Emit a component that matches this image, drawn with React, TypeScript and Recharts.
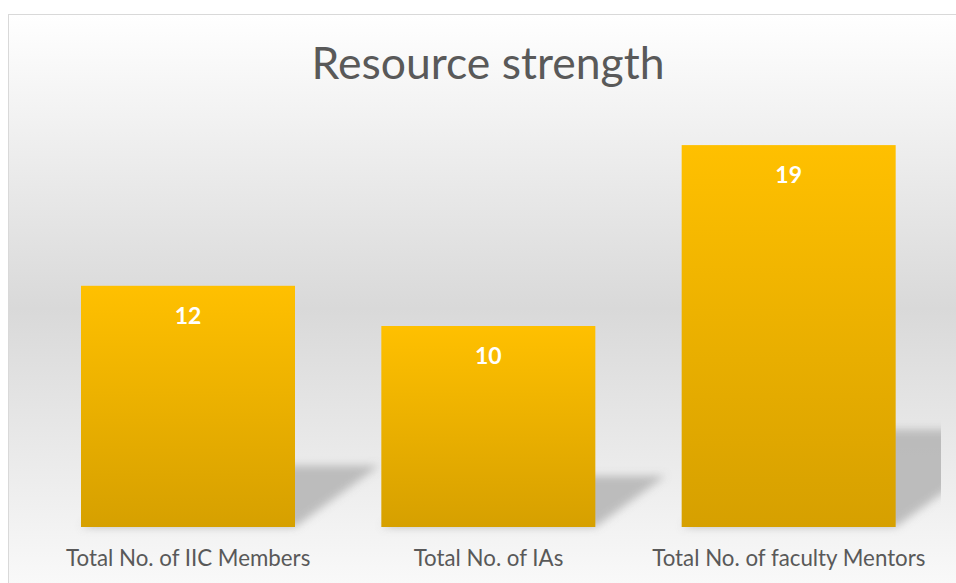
import { BarChart, Bar, XAxis, YAxis, LabelList } from 'recharts';

const categories = ['Total No. of IIC Members', 'Total No. of IAs', 'Total No. of faculty Mentors'];
const counts = [12, 10, 19];

const data = categories.map((name, i) => ({ name, value: counts[i] }));

const W = 948;
const H = 569;
const FONT = 'Lato, "Open Sans", sans-serif';

// bar with a gold gradient and a skewed floor shadow behind it
function ShadowBar(props: any) {
  const { x, y, width, height, index } = props;
  const bottom = y + height;
  const sh = height * 0.255;
  const skew = height * 0.35;
  const right = x + width;
  return (
    <g>
      <defs>
        <linearGradient id={`gold${index}`} x1="0" y1="0" x2="0" y2="1">
          <stop offset="0%" stopColor="#ffc000" />
          <stop offset="100%" stopColor="#d6a000" />
        </linearGradient>
        <filter id={`blur${index}`} x="-50%" y="-50%" width="200%" height="200%">
          <feGaussianBlur stdDeviation="4" />
        </filter>
        <clipPath id={`clip${index}`}>
          <rect x={0} y={0} width={W - 15} height={H} />
        </clipPath>
      </defs>
      <g clipPath={`url(#clip${index})`}>
        <polygon
          points={`${x + skew},${bottom - sh} ${right + skew},${bottom - sh} ${right},${bottom} ${x},${bottom}`}
          fill="#b4b4b4"
          opacity={0.85}
          filter={`url(#blur${index})`}
        />
      </g>
      <rect x={x} y={y} width={width} height={height} fill={`url(#gold${index})`} />
    </g>
  );
}

function Tick(props: any) {
  const { x, y, payload } = props;
  return (
    <text x={x} y={y + 31} textAnchor="middle" fill="#595959" fontSize={22.3} fontFamily={FONT}>
      {payload.value}
    </text>
  );
}

export default function App() {
  return (
    <div style={{ position: 'absolute', left: 8, top: 14, width: W, height: H, overflow: 'hidden' }}>
      <div
        style={{
          position: 'absolute',
          left: 0,
          top: 0,
          width: W + 20,
          height: H + 20,
          boxSizing: 'border-box',
          border: '1px solid #d9d9d9',
          background: 'linear-gradient(to bottom, #ffffff 0%, #d9d9d9 50%, #fbfbfb 100%)',
        }}
      />
      <div style={{ position: 'absolute', left: 0, top: 0 }}>
        <BarChart width={W} height={H} data={data} margin={{ top: 111, right: 17, left: 30, bottom: 16 }}>
          <text x={480} y={65} textAnchor="middle" fill="#595959" fontSize={44.5} fontFamily={FONT}>
            Resource strength
          </text>
          <XAxis dataKey="name" height={40} axisLine={false} tickLine={false} tick={<Tick />} interval={0} />
          <YAxis hide domain={[0, 20]} />
          <Bar dataKey="value" barSize={214} shape={<ShadowBar />} isAnimationActive={false}>
            <LabelList
              dataKey="value"
              position="insideTop"
              offset={22}
              fill="#ffffff"
              fontSize={23}
              fontWeight="bold"
              fontFamily={FONT}
            />
          </Bar>
        </BarChart>
      </div>
    </div>
  );
}
